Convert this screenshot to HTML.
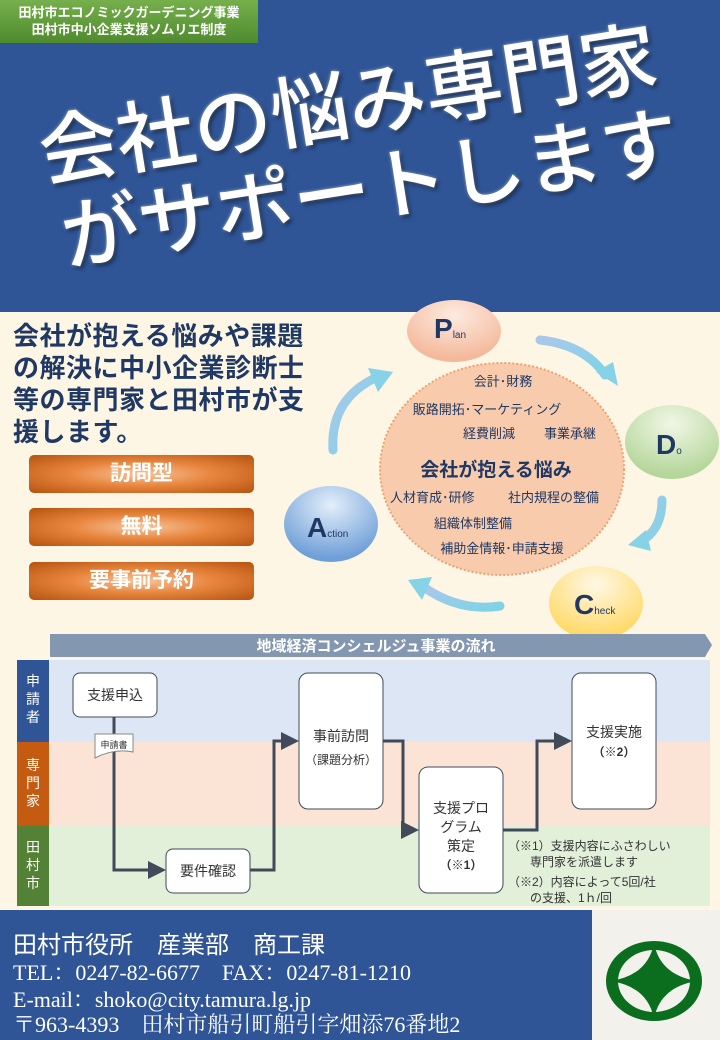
<!DOCTYPE html>
<html><head><meta charset="utf-8">
<style>
*{margin:0;padding:0;box-sizing:border-box}
body{width:720px;height:1040px;overflow:hidden;background:#fdf6e4;font-family:"Liberation Sans","Noto Sans CJK JP",sans-serif;position:relative}
.abs{position:absolute}
#top{left:0;top:0;width:720px;height:312px;background:#2f5597}
#tag{left:0;top:0;width:258px;height:43px;background:linear-gradient(#76b04c,#4f8a2e);color:#fff;font-size:13px;font-weight:bold;text-align:center;line-height:17px;padding-top:4px}
.title{color:#fff;font-size:78px;font-weight:500;white-space:nowrap;text-shadow:2px 3px 4px rgba(0,0,0,.5),0 0 3px rgba(255,255,255,.6);transform-origin:0 0;line-height:1}
#lead{left:13px;top:320px;color:#1f3864;font-size:26px;font-weight:bold;line-height:32px;letter-spacing:0.5px;width:300px}
.btn{left:29px;width:225px;height:38px;border-radius:5px;background:radial-gradient(ellipse at center,#f7c49c 0%,#e8853d 45%,#b5520f 100%);color:#fff;font-size:21px;font-weight:bold;text-align:center;line-height:38px}
#foot{left:0;top:910px;width:592px;height:130px;background:#2f5597;color:#fff}
#foot div{position:absolute;left:13px;white-space:nowrap}
.serif{font-family:"Liberation Serif","Noto Serif CJK SC",serif}
</style></head><body>
<div id="top" class="abs"></div>
<div id="tag" class="abs">田村市エコノミックガーデニング事業<br>田村市中小企業支援ソムリエ制度</div>
<div class="abs title" style="left:34px;top:116px;transform:rotate(-9deg)">会社の悩み専門家</div>
<div class="abs title" style="left:56px;top:200px;transform:rotate(-9deg)">がサポートします</div>

<div id="lead" class="abs">会社が抱える悩みや課題の解決に中小企業診断士等の専門家と田村市が支援します。</div>
<div class="abs btn" style="top:455px">訪問型</div>
<div class="abs btn" style="top:508px">無料</div>
<div class="abs btn" style="top:562px">要事前予約</div>

<svg class="abs" style="left:0;top:0" width="720" height="1040">
<defs>
<radialGradient id="gp" cx="50%" cy="25%" r="70%"><stop offset="0" stop-color="#fdebe0"/><stop offset="1" stop-color="#f4b89a"/></radialGradient>
<radialGradient id="gd" cx="50%" cy="25%" r="70%"><stop offset="0" stop-color="#f0f7e6"/><stop offset="1" stop-color="#b5d69a"/></radialGradient>
<radialGradient id="gc" cx="50%" cy="25%" r="70%"><stop offset="0" stop-color="#fff8e6"/><stop offset="1" stop-color="#ffd966"/></radialGradient>
<radialGradient id="ga" cx="50%" cy="25%" r="70%"><stop offset="0" stop-color="#e3eefa"/><stop offset="1" stop-color="#6f9fd8"/></radialGradient>
<linearGradient id="arr" x1="0" y1="0" x2="1" y2="1"><stop offset="0" stop-color="#a9c8ea"/><stop offset="1" stop-color="#7fd3e6"/></linearGradient>
<marker id="ah" markerWidth="6" markerHeight="6" refX="4" refY="3" orient="auto"><path d="M0,0 L6,3 L0,6 z" fill="#404a5a"/></marker>
</defs>
<g fill="none" stroke="url(#arr)" stroke-width="9" stroke-linecap="round">
<path d="M540,340 Q585,345 605,375"/>
<path d="M662,500 Q662,530 640,542"/>
<path d="M500,606 Q460,612 425,588"/>
<path d="M333,450 Q330,400 375,378"/>
</g>
<g fill="#86d2e6">
<polygon points="596,372 618,386 613,362"/>
<polygon points="646,530 628,545 651,551"/>
<polygon points="432,577 408,580 422,600"/>
<polygon points="368,368 393,372 378,392"/>
</g>
<ellipse cx="502" cy="469" rx="122" ry="106" fill="#f8cbad" stroke="#f0a070" stroke-width="2" stroke-dasharray="2 2"/>
<g font-size="13" fill="#1f3864" text-anchor="middle">
<text x="503" y="386">会計･財務</text>
<text x="487" y="414">販路開拓･マーケティング</text>
<text x="489" y="438">経費削減</text>
<text x="570" y="438">事業承継</text>
<text x="390" y="502" text-anchor="start">人材育成･研修</text>
<text x="508" y="502" text-anchor="start">社内規程の整備</text>
<text x="473" y="528">組織体制整備</text>
<text x="502" y="553">補助金情報･申請支援</text>
</g>
<text x="496" y="476" font-size="19" font-weight="bold" fill="#1f3864" text-anchor="middle">会社が抱える悩み</text>
<ellipse cx="454" cy="331" rx="47" ry="31" fill="url(#gp)"/>
<ellipse cx="672" cy="442" rx="47" ry="37" fill="url(#gd)"/>
<ellipse cx="596" cy="603" rx="47" ry="37" fill="url(#gc)"/>
<ellipse cx="331" cy="524" rx="47" ry="38" fill="url(#ga)"/>
<g fill="#1f3864" font-weight="bold" font-size="28">
<text x="434" y="338">P<tspan font-size="10" font-weight="normal">lan</tspan></text>
<text x="656" y="454">D<tspan font-size="10" font-weight="normal">o</tspan></text>
<text x="574" y="614">C<tspan font-size="10" font-weight="normal">heck</tspan></text>
<text x="307" y="537">A<tspan font-size="10" font-weight="normal">ction</tspan></text>
</g>
<polygon points="50,634 705,634 712,645 705,657 50,657" fill="#8497b0"/>
<text x="376" y="651" font-size="15" font-weight="bold" fill="#fff" text-anchor="middle">地域経済コンシェルジュ事業の流れ</text>
<rect x="49" y="660" width="661" height="82" fill="#dce6f4"/>
<rect x="49" y="742" width="661" height="84" fill="#fbe4d5"/>
<rect x="49" y="826" width="661" height="80" fill="#e2efd9"/>
<rect x="17" y="660" width="32" height="82" fill="#2f5597"/>
<rect x="17" y="742" width="32" height="84" fill="#c55a11"/>
<rect x="17" y="826" width="32" height="80" fill="#538135"/>
<g fill="#fff" font-size="14" text-anchor="middle">
<text x="33" y="686">申</text><text x="33" y="704">請</text><text x="33" y="722">者</text>
<text x="33" y="770">専</text><text x="33" y="788">門</text><text x="33" y="806">家</text>
<text x="33" y="852">田</text><text x="33" y="870">村</text><text x="33" y="888">市</text>
</g>
<g fill="none" stroke="#404a5a" stroke-width="3">
<path d="M114,717 V870 H160" marker-end="url(#ah)"/>
<path d="M250,870 H274 V741 H293" marker-end="url(#ah)"/>
<path d="M383,741 H403 V830 H413" marker-end="url(#ah)"/>
<path d="M503,830 H537 V741 H566" marker-end="url(#ah)"/>
</g>
<path d="M95,734 H133 V752 Q114,748 95,758 Z" fill="#fff" stroke="#888" stroke-width="1"/>
<text x="114" y="748" font-size="9" fill="#333" text-anchor="middle">申請書</text>
<g fill="#fff" stroke="#404a5a" stroke-width="1">
<rect x="73" y="673" width="84" height="44" rx="7"/>
<rect x="299" y="673" width="84" height="136" rx="9"/>
<rect x="572" y="673" width="84" height="136" rx="9"/>
<rect x="419" y="767" width="84" height="126" rx="9"/>
<rect x="166" y="849" width="84" height="44" rx="7"/>
</g>
<g fill="#333" font-size="14" text-anchor="middle">
<text x="115" y="700">支援申込</text>
<text x="341" y="741">事前訪問</text>
<text x="341" y="764" font-size="12">（課題分析）</text>
<text x="614" y="737">支援実施</text>
<text x="614" y="756" font-size="12" font-weight="bold">（※2）</text>
<text x="461" y="813">支援プロ</text>
<text x="461" y="832">グラム</text>
<text x="461" y="851">策定</text>
<text x="461" y="869" font-size="12" font-weight="bold">（※1）</text>
<text x="208" y="876">要件確認</text>
</g>
<g fill="#333" font-size="12">
<text x="508" y="850">（※1）支援内容にふさわしい</text>
<text x="530" y="866">専門家を派遣します</text>
<text x="508" y="886">（※2）内容によって5回/社</text>
<text x="530" y="902">の支援、1ｈ/回</text>
</g>
<rect x="592" y="910" width="128" height="130" fill="#f2f1ec"/>
<ellipse cx="654" cy="981" rx="48" ry="40" fill="#0b6e1e"/>
<ellipse cx="654" cy="981" rx="36" ry="31" fill="#f2f1ec"/>
<path d="M654,943 Q660,975 697,981 Q660,987 654,1019 Q648,987 611,981 Q648,975 654,943 Z" fill="#0b6e1e"/>
</svg>

<div id="foot" class="abs">
<div style="top:15px;font-size:24px;">田村市役所　産業部　商工課</div>
<div class="serif" style="top:46px;font-size:22px;">TEL：0247-82-6677　FAX：0247-81-1210</div>
<div class="serif" style="top:73px;font-size:22px;">E-mail：shoko@city.tamura.lg.jp</div>
<div class="serif" style="top:98px;font-size:22px;">〒963-4393　田村市船引町船引字畑添76番地2</div>
</div>
</body></html>
